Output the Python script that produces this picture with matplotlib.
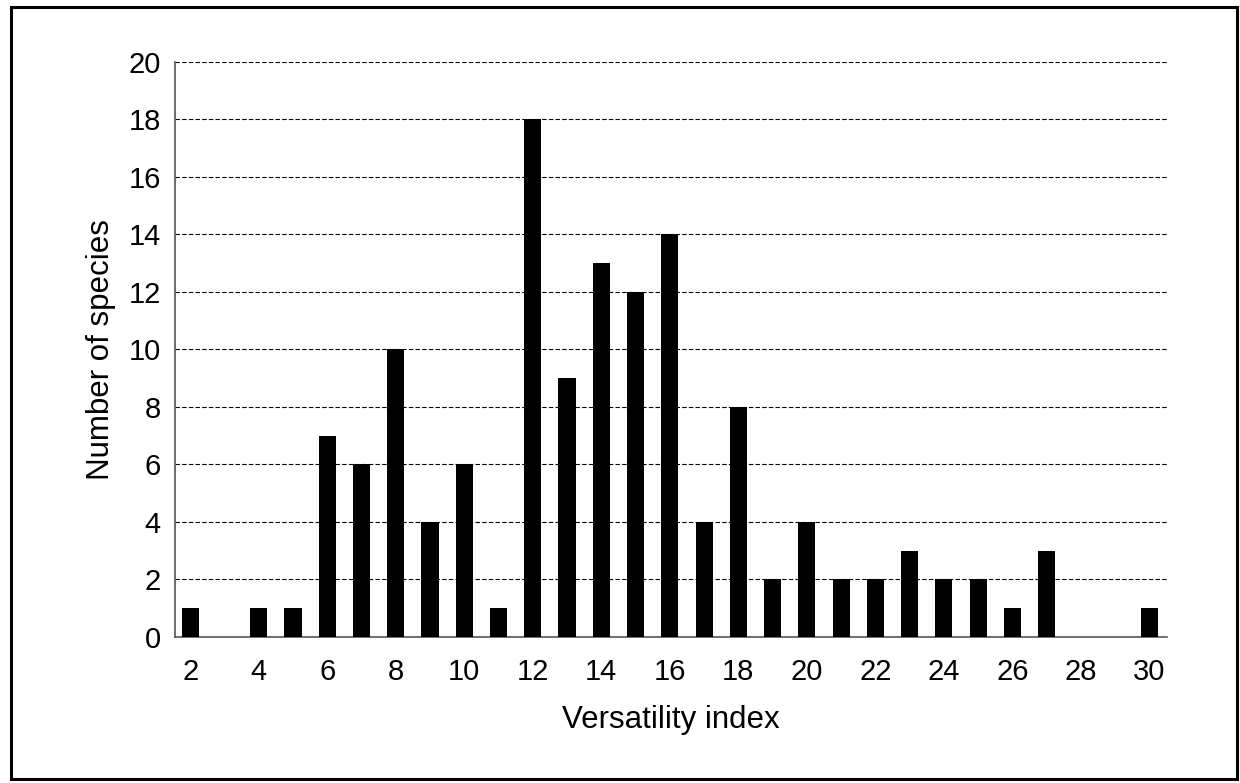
import matplotlib
matplotlib.use("Agg")
import matplotlib.pyplot as plt
from matplotlib.patches import Rectangle
import numpy as np

plt.rcParams['font.family'] = ['Liberation Sans', 'DejaVu Sans']

# versatility index and number of species at each index
versatility = list(range(2, 31))
species = [1, 0, 1, 1, 7, 6, 10, 4, 6, 1, 18, 9, 13, 12, 14,
           4, 8, 2, 4, 2, 2, 3, 2, 2, 1, 3, 0, 0, 1]
x_ticks = list(range(2, 31, 2))
y_ticks = list(range(0, 21, 2))

fig = plt.figure(figsize=(12.4, 7.83), dpi=100)
ax = fig.add_axes([0.141, 0.1865, 0.8, 0.7345])

ax.bar(versatility, species, width=0.5, color='black', zorder=3)

ax.set_xlim(1.55, 30.51)
ax.set_ylim(0, 20)
ax.set_xticks(x_ticks)
ax.set_yticks(y_ticks)
ax.tick_params(axis='both', length=0, labelsize=21)
ax.tick_params(axis='x', pad=15)
ax.tick_params(axis='y', pad=10)
ax.yaxis.grid(True, linestyle=(0, (4, 2)), color='black', linewidth=0.8)
ax.set_axisbelow(True)

for side in ['top', 'right']:
    ax.spines[side].set_visible(False)
for side in ['left', 'bottom']:
    ax.spines[side].set_color('#555555')
    ax.spines[side].set_linewidth(1.2)

ax.set_xlabel('Versatility index', fontsize=22.5, labelpad=14)
ax.set_ylabel('Number of species', fontsize=22.5, labelpad=9)

# frame around the whole figure
fig.patches.append(Rectangle((11 / 1240, 4 / 783), 1226 / 1240, 772 / 783,
                             transform=fig.transFigure, fill=False,
                             edgecolor='black', linewidth=2.2))

fig.savefig('out.png', dpi=100)
